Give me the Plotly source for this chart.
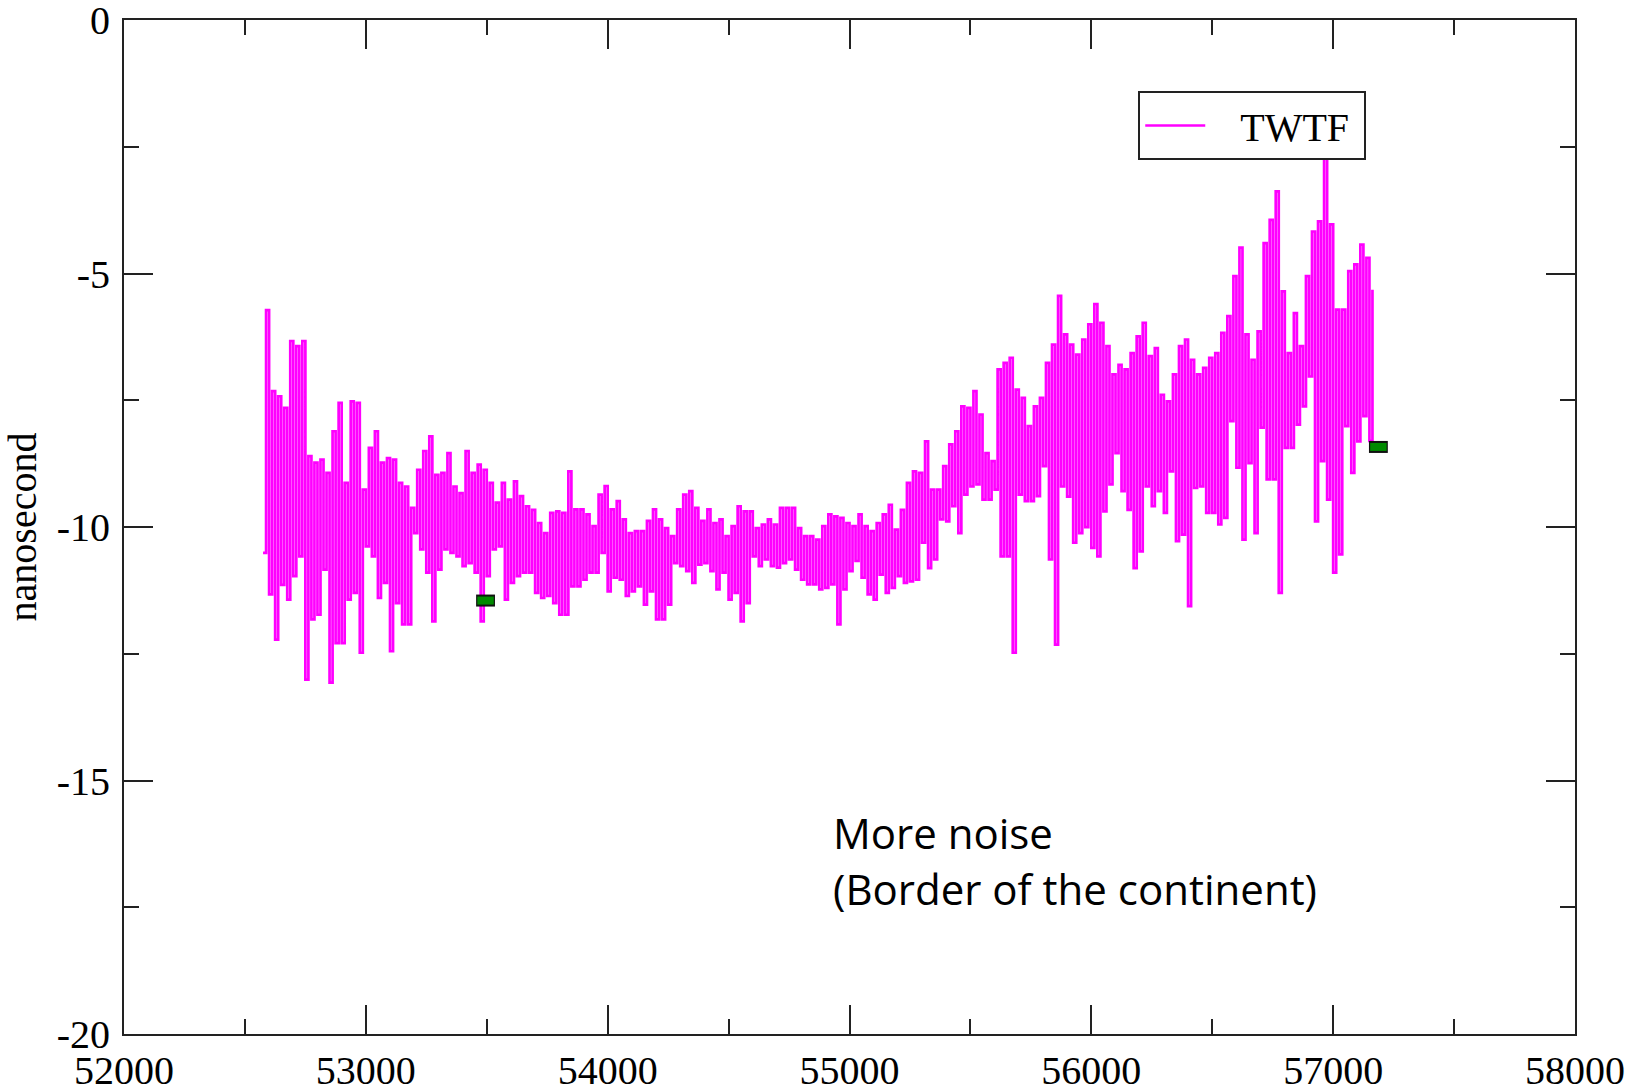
import plotly.graph_objects as go

# TWTF time series: per 25-day bin, upper and lower extent (ns)
bin_start = list(range(52575, 57151, 25))
upper = [-5.72, -7.32, -7.42, -7.65, -6.33, -6.43, -6.33, -8.6, -8.73, -8.67, -8.93, -8.11, -7.55, -9.13, -7.52, -7.55,
         -9.26, -8.44, -8.11, -8.73, -8.64, -8.67, -9.13, -9.2, -9.62, -8.87, -8.5, -8.21, -8.97, -8.93, -8.54, -9.2,
         -9.33, -8.5, -8.93, -8.77, -8.87, -9.13, -9.52, -9.13, -9.46, -9.1, -9.39, -9.59, -9.66, -9.92,
         -10.12, -9.72, -9.69, -9.72, -8.9, -9.65, -9.65, -9.75, -9.98, -9.36, -9.19, -9.65, -9.49, -9.85, -10.12, -10.08,
         -10.08, -9.88, -9.65, -9.85, -10.02, -10.18, -9.65, -9.36, -9.29, -9.62, -9.88, -9.65, -9.92, -9.85, -10.18, -9.98,
         -9.59, -9.69, -9.69, -10.02, -9.95, -9.85, -9.95, -9.62, -9.62, -9.62, -10.02, -10.18, -10.18, -10.25,
         -9.98, -9.75, -9.79, -9.82, -9.92, -9.98, -9.75, -9.98, -10.08, -9.92, -9.75, -9.56, -10.05, -9.66, -9.13, -8.9,
         -8.93, -8.31, -9.26, -9.26, -8.8, -8.37, -8.11, -7.62, -7.65, -7.32, -7.78, -8.54, -8.7, -6.89, -6.76, -6.66,
         -7.29, -7.45, -8.01, -7.62, -7.45, -6.76, -6.4, -5.44, -6.2, -6.4, -6.6, -6.3, -6.0, -5.6,
         -5.97, -6.43, -6.99, -6.8, -6.89, -6.57, -6.24, -5.97, -6.63, -6.47, -7.39, -7.52, -6.99, -6.43, -6.3, -6.7,
         -6.99, -6.86, -6.66, -6.57, -6.17, -5.84, -5.05, -4.49, -6.2, -6.7, -6.14, -4.4, -3.94, -3.38, -5.35, -6.57,
         -5.78, -6.43, -5.05, -4.17, -3.97, -2.59, -4.03, -5.71, -5.71, -4.95, -4.82, -4.43, -4.69, -5.32]
lower = [-10.51, -11.33, -12.22, -11.14, -11.43, -10.97, -10.58, -13.01, -11.82, -11.73, -10.84, -13.07, -12.29, -12.29, -11.43, -11.3,
         -12.48, -10.38, -10.58, -11.4, -11.1, -12.45, -11.5, -11.92, -11.92, -10.12, -10.44, -10.9, -11.86, -10.84, -10.44, -10.51,
         -10.58, -10.77, -10.71, -10.9, -11.86, -10.97, -10.44, -10.38, -11.43, -11.1, -10.97, -10.9, -10.9, -11.3,
         -11.4, -11.36, -11.5, -11.73, -11.73, -11.17, -11.17, -11.04, -10.9, -10.9, -10.51, -11.27, -11.0, -11.04, -11.36, -11.27,
         -11.17, -11.53, -11.27, -11.82, -11.82, -11.53, -10.71, -10.77, -10.87, -11.1, -10.74, -10.71, -10.87, -11.23, -10.9, -11.43,
         -11.3, -11.86, -11.5, -10.58, -10.77, -10.64, -10.77, -10.8, -10.71, -10.64, -10.84, -11.04, -11.13, -11.13,
         -11.23, -11.2, -11.13, -11.92, -11.23, -10.87, -10.67, -11.0, -11.33, -11.43, -10.94, -11.3, -11.2, -10.97, -11.1, -11.07,
         -11.04, -10.31, -10.81, -10.64, -9.85, -9.89, -9.59, -10.12, -9.36, -9.2, -9.16, -9.46, -9.46, -9.26, -10.58, -10.58,
         -12.48, -9.36, -9.49, -9.49, -9.39, -8.8, -10.64, -12.32, -9.2, -9.4, -10.31, -10.12, -10.0, -10.41,
         -10.58, -9.69, -9.16, -8.54, -9.29, -9.66, -10.81, -10.48, -9.2, -9.59, -9.29, -9.72, -8.9, -10.28, -10.15, -11.56,
         -9.23, -9.2, -9.72, -9.72, -9.95, -9.82, -7.91, -8.83, -10.25, -8.74, -10.12, -8.04, -9.06, -9.06, -11.3, -8.44,
         -8.44, -7.98, -7.62, -7.03, -9.89, -8.7, -9.46, -10.9, -10.54, -8.01, -8.93, -8.31, -7.81, -8.3]

# green markers
mark_x = [53495, 57187]
mark_y = [-11.45, -8.42]

x_ticks = [52000, 53000, 54000, 55000, 56000, 57000, 58000]
y_ticks = [0, -5, -10, -15, -20]

half_step = 12.5
xs, ys = [], []
for x0, lo, hi in zip(bin_start, lower, upper):
    xs += [x0, x0 + half_step]
    ys += [lo, hi]

fig = go.Figure()
fig.add_trace(go.Scatter(x=xs, y=ys, mode="lines", line=dict(color="#ff00ff", width=2.7, shape="hv"),
                         name="\u00a0\u00a0\u00a0TWTF\u00a0"))

outer_half, inner_half = 39, 34
for mx, my in zip(mark_x, mark_y):
    fig.add_trace(go.Scatter(x=[mx - outer_half, mx + outer_half], y=[my, my], mode="lines",
                             line=dict(color="#111111", width=12), showlegend=False, hoverinfo="skip"))
    fig.add_trace(go.Scatter(x=[mx - inner_half, mx + inner_half], y=[my, my], mode="lines",
                             line=dict(color="#008a00", width=8), showlegend=False, hoverinfo="skip"))

axis_font = dict(family="Liberation Serif", size=40, color="black")
fig.update_xaxes(range=[52000, 58000], tickvals=x_ticks, ticktext=[str(v) for v in x_ticks],
                 ticks="inside", ticklen=29, tickwidth=2, tickcolor="#222",
                 minor=dict(dtick=500, ticks="inside", ticklen=15, tickwidth=2, tickcolor="#222"),
                 showline=True, linecolor="#222", linewidth=2, mirror="ticks", automargin=False,
                 showgrid=False, zeroline=False, tickfont=axis_font, ticklabelstandoff=0,
                 ticklabeloverflow="allow")
fig.update_yaxes(range=[-20, 0.002], tickvals=y_ticks, ticktext=[str(v) for v in y_ticks],
                 ticks="inside", ticklen=29, tickwidth=2, tickcolor="#222",
                 minor=dict(dtick=2.5, ticks="inside", ticklen=15, tickwidth=2, tickcolor="#222"),
                 showline=True, linecolor="#222", linewidth=2, mirror="ticks", automargin=False,
                 showgrid=False, zeroline=False, tickfont=axis_font, ticklabelstandoff=4,
                 ticklabeloverflow="allow",
                 title=dict(text="nanosecond", font=dict(family="Liberation Serif", size=40, color="black"),
                            standoff=8))

fig.add_annotation(text="More noise", xref="paper", yref="paper", x=0.4875, y=0.1983,
                   xanchor="left", yanchor="middle", showarrow=False,
                   font=dict(family="Open Sans", size=42, color="black"))
fig.add_annotation(text="(Border of the continent)", xref="paper", yref="paper", x=0.4875, y=0.1431,
                   xanchor="left", yanchor="middle", showarrow=False,
                   font=dict(family="Open Sans", size=42, color="black"))

fig.update_layout(width=1644, height=1087, margin=dict(l=124, r=69, t=20, b=53),
                  paper_bgcolor="white", plot_bgcolor="white",
                  legend=dict(x=0.699, y=0.930, xanchor="left", yanchor="top",
                              bordercolor="#222", borderwidth=2, bgcolor="white",
                              font=dict(family="Liberation Serif", size=40, color="black"),
                              itemwidth=60))

fig.write_html("out.html", config={"displayModeBar": False},
               post_script="document.body.style.margin='0';")
